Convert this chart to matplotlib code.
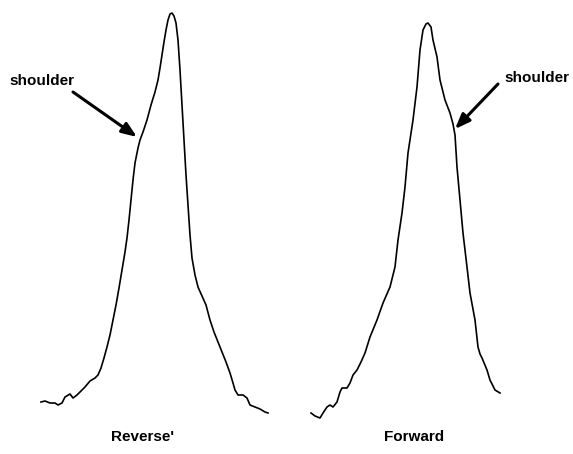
import matplotlib.pyplot as plt

# scan traces: position along the scan and detector signal (baseline near 40-50)
rev_pos = [41, 45, 50, 55, 58, 62, 65, 70, 73, 77, 80, 85, 90, 95, 98, 101, 104, 107,
           110, 113, 116, 119, 122, 125, 127, 129, 131, 133, 135, 138, 140, 143, 147,
           151, 155, 158, 160, 162, 164, 166, 168, 170, 172, 174, 176, 178, 180, 182,
           184, 186, 188, 190, 192, 195, 198, 202, 206, 210, 214, 218, 222, 226, 230,
           233, 235, 238, 243, 247, 250, 255, 260, 265, 268]
rev_sig = [52, 53, 51, 51, 49, 51, 57, 60, 56, 59, 62, 67, 73, 76, 79, 86, 96, 107,
           119, 134, 149, 166, 184, 202, 216, 234, 254, 274, 291, 306, 314, 322, 334,
           349, 362, 374, 386, 399, 412, 424, 434, 440, 441, 438, 431, 414, 384, 349,
           314, 279, 249, 219, 196, 179, 167, 158, 149, 134, 122, 112, 102, 92, 81,
           71, 64, 59, 59, 56, 49, 47, 45, 42, 41]

fwd_pos = [311, 315, 320, 323, 327, 330, 333, 337, 340, 342, 347, 350, 353, 357, 361,
           365, 370, 377, 383, 390, 395, 398, 402, 405, 408, 413, 417, 420, 423, 426,
           428, 431, 433, 437, 440, 445, 450, 453, 455, 457, 460, 463, 467, 470, 475,
           478, 480, 482, 487, 490, 495, 500]
fwd_sig = [41, 38, 36, 41, 47, 49, 47, 52, 62, 66, 66, 71, 79, 84, 92, 101, 117, 134,
           151, 167, 187, 214, 241, 267, 301, 334, 367, 404, 424, 430, 431, 427, 414,
           397, 374, 354, 341, 330, 319, 287, 254, 221, 187, 161, 134, 107, 100, 96,
           84, 74, 64, 61]

labels = ["Reverse'", "Forward"]
label_pos = [142, 414]
note = "shoulder"

fig = plt.figure(figsize=(5.73, 4.54), dpi=100)
ax = fig.add_axes([0, 0, 1, 1])
ax.set_xlim(0, 573)
ax.set_ylim(0, 454)
ax.axis('off')

ax.plot(rev_pos, rev_sig, color='black', linewidth=1.2, solid_joinstyle='round')
ax.plot(fwd_pos, fwd_sig, color='black', linewidth=1.2, solid_joinstyle='round')

for name, x in zip(labels, label_pos):
    ax.text(x, 17, name, ha='center', va='center',
            family='Liberation Sans', weight='bold', size=11)

# "shoulder" notes with arrows pointing at the shoulder on each peak
ax.text(42, 373, note, ha='center', va='center',
        family='Liberation Sans', weight='bold', size=11)
ax.text(537, 376, note, ha='center', va='center',
        family='Liberation Sans', weight='bold', size=11)

arrow = dict(arrowstyle='-|>,head_length=0.9,head_width=0.35', color='black',
             linewidth=2.2, shrinkA=0, shrinkB=0)
ax.annotate('', xy=(rev_pos[30] - 3, rev_sig[30] + 3), xytext=(73, 362),
            arrowprops=arrow)
ax.annotate('', xy=(fwd_pos[37] + 2, fwd_sig[37] - 5), xytext=(498, 370),
            arrowprops=arrow)

fig.savefig('out.png', dpi=100)
